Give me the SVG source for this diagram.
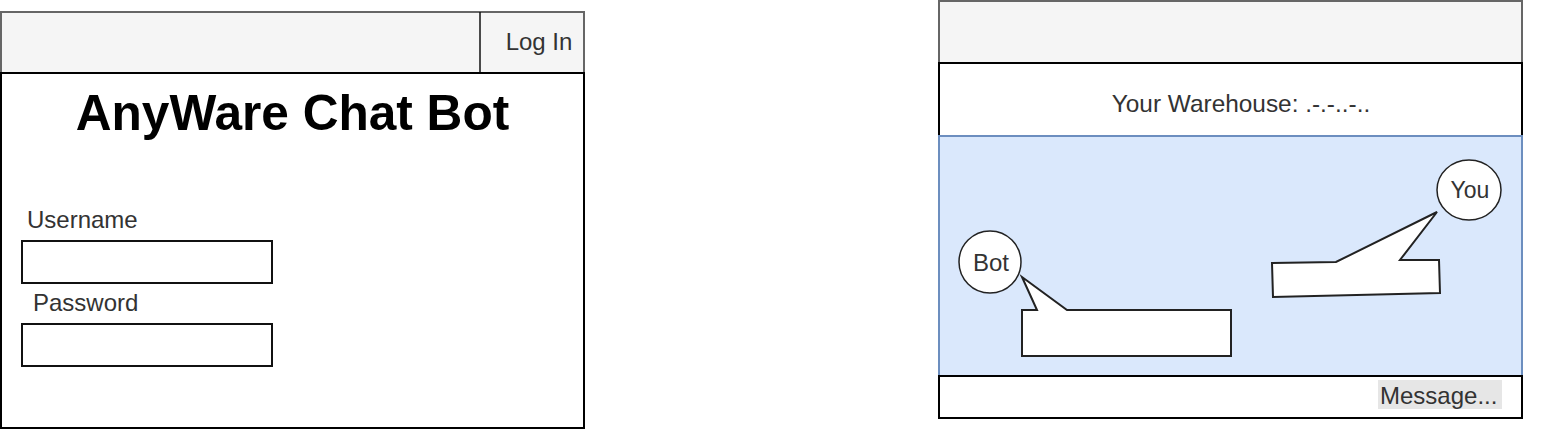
<svg xmlns="http://www.w3.org/2000/svg" width="1543" height="429" viewBox="0 0 1543 429">
<style>
text{font-family:"Liberation Sans",Arial,sans-serif;fill:#333}
.hdr{fill:#f5f5f5;stroke:#666;stroke-width:2}
.box{fill:#fff;stroke:#000;stroke-width:2}
.inp{fill:#fff;stroke:#111;stroke-width:2}
.bub{fill:#fff;stroke:#222;stroke-width:2;stroke-linejoin:miter}
.av{fill:#fff;stroke:#222;stroke-width:1.5}
</style>
<rect width="1543" height="429" fill="#fff"/>
<g id="login-page">
  <g id="login-header">
    <rect class="hdr" x="1" y="12" width="583" height="61"/>
    <line x1="480" y1="12" x2="480" y2="73" stroke="#111" stroke-width="1.5"/>
    <text x="539" y="50" font-size="24" text-anchor="middle">Log In</text>
  </g>
  <g id="login-body">
    <rect class="box" x="1" y="73" width="583" height="355"/>
    <text x="292.5" y="130" font-size="49.6" font-weight="bold" text-anchor="middle" style="fill:#000">AnyWare Chat Bot</text>
  </g>
  <g id="username">
    <text x="27" y="228" font-size="24">Username</text>
    <rect class="inp" x="22" y="241" width="250" height="42"/>
  </g>
  <g id="password">
    <text x="33" y="311" font-size="24">Password</text>
    <rect class="inp" x="22" y="324" width="250" height="42"/>
  </g>
</g>
<g id="chat-page">
  <g id="chat-header">
    <rect class="hdr" x="939" y="1" width="583" height="62"/>
  </g>
  <g id="warehouse-bar">
    <rect class="box" x="939" y="63" width="583" height="73"/>
    <text x="1241" y="112" font-size="24.4" text-anchor="middle">Your Warehouse: .-.-..-..</text>
  </g>
  <g id="chat-area">
    <rect x="939" y="136" width="583" height="240" fill="#dae8fc" stroke="#6c8ebf" stroke-width="2"/>
  </g>
  <g id="message-bar">
    <rect class="box" x="939" y="376" width="583" height="42"/>
    <rect x="1378" y="380" width="124" height="29" fill="#e6e6e6"/>
    <text x="1380" y="404" font-size="24">Message...</text>
  </g>
  <g id="bot-bubble">
    <polygon class="bub" points="1022,310 1037,310 1022,277 1067,310 1231,310 1231,356 1022,356"/>
  </g>
  <g id="bot-avatar">
    <circle class="av" cx="990" cy="262" r="31"/>
    <text x="991" y="271" font-size="24" text-anchor="middle">Bot</text>
  </g>
  <g id="you-bubble">
    <polygon class="bub" points="1272,263 1336,262 1437,212 1400,260 1439,260 1440,293 1273,297"/>
  </g>
  <g id="you-avatar">
    <ellipse class="av" cx="1469" cy="190" rx="32" ry="30"/>
    <text x="1470" y="198" font-size="23" text-anchor="middle">You</text>
  </g>
</g>
<g id="connectors"/>
</svg>
